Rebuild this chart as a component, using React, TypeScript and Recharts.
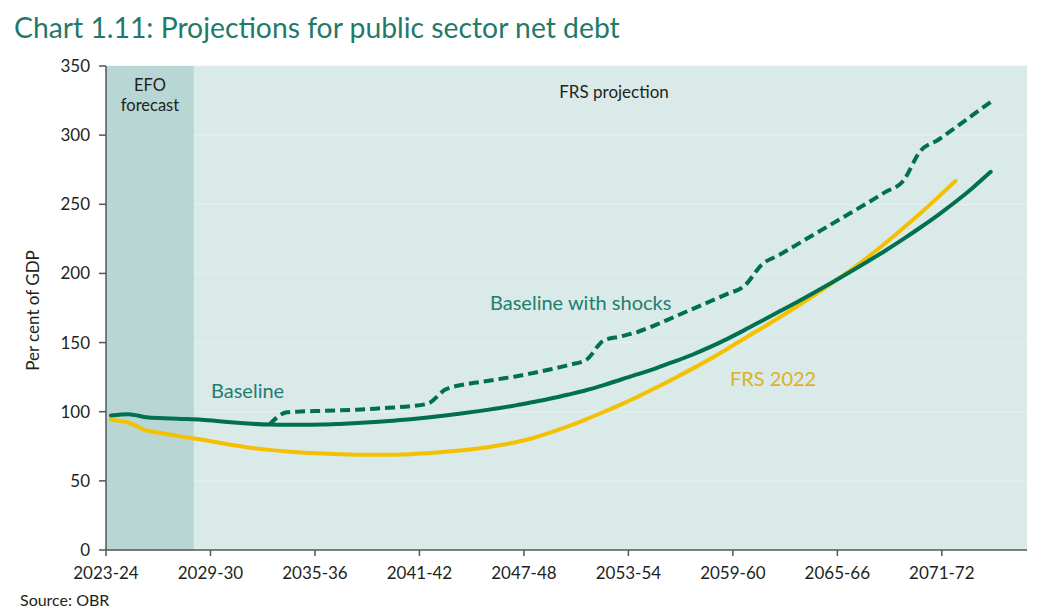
import { LineChart, Line, XAxis, YAxis, CartesianGrid, ReferenceArea } from "recharts";

const FIRST_YEAR = 2023;

// per cent of GDP, one value per year from 2023-24
const BASELINE = [
  97.3, 98.2, 96.0, 95.3, 94.8, 94.3, 93.3, 92.2, 91.3, 90.7,
  90.5, 90.5, 90.7, 91.2, 91.8, 92.6, 93.5, 94.5, 95.8, 97.3,
  98.9, 100.6, 102.5, 104.6, 107.0, 109.5, 112.4, 115.5, 119.2, 123.3,
  127.3, 131.6, 136.2, 141.0, 146.5, 152.5, 159.0, 165.8, 172.6, 179.4,
  186.4, 193.6, 201.0, 208.6, 216.4, 224.6, 233.2, 242.2, 251.8, 262.2,
  273.5,
];

const SHOCKS = [
  null, null, null, null, null, null, null, null, null, 90.7,
  99.6, 100.3, 100.6, 101.0, 101.5, 102.2, 103.0, 104.0, 105.8, 116.0,
  119.5, 121.5, 123.5, 125.5, 128.0, 130.7, 133.8, 137.4, 151.5, 154.5,
  158.0, 163.0, 168.5, 174.0, 179.5, 185.0, 191.0, 206.5, 213.5, 221.0,
  228.5, 236.0, 243.5, 251.0, 258.8, 266.5, 288.5, 296.5, 305.5, 314.8,
  324.0,
];

const FRS_2022 = [
  94.2, 92.0, 86.5, 84.3, 82.0, 80.1, 77.9, 75.7, 73.8, 72.4,
  71.3, 70.4, 69.7, 69.2, 68.9, 68.8, 68.9, 69.2, 70.0, 71.0,
  72.2, 73.6, 75.5, 77.9, 81.0, 85.0, 89.5, 94.5, 99.8, 105.3,
  111.3, 117.5, 124.0, 130.8, 137.8, 145.2, 153.0, 160.5, 168.3, 176.3,
  184.6, 193.2, 202.0, 211.6, 221.8, 232.5, 243.5, 255.0, 267.0,
];

const TICK_LABELS = ["2023-24", "2029-30", "2035-36", "2041-42", "2047-48", "2053-54", "2059-60", "2065-66", "2071-72"];
const Y_TICKS = [0, 50, 100, 150, 200, 250, 300, 350];

const X_MIN = -0.284;
const X_MAX = 52.06;
const TICK_STEP = 5.938;
const EFO_END = 4.7;

const GREEN = "#00704f";
const YELLOW = "#f5c000";
const TEAL_TEXT = "#237d6e";
const INK = "#231f20";
const FONT = "Lato, sans-serif";

const data = BASELINE.map((v, i) => ({
  i,
  year: `${FIRST_YEAR + i}-${String((FIRST_YEAR + i + 1) % 100).padStart(2, "0")}`,
  baseline: v,
  shocks: SHOCKS[i],
  frs: i < FRS_2022.length ? FRS_2022[i] : null,
}));

const xTicks = TICK_LABELS.map((_, k) => X_MIN + k * TICK_STEP);

const text = (left: number, top: number, size: number, color: string, extra: any = {}) => ({
  position: "absolute" as const,
  left,
  top,
  fontSize: size,
  lineHeight: 1,
  color,
  fontFamily: FONT,
  whiteSpace: "nowrap" as const,
  ...extra,
});

export default function App() {
  return (
    <div style={{ position: "absolute", left: 0, top: 0, width: 1051, height: 613, background: "#fff", fontFamily: FONT }}>
      <div style={text(14, 13, 28.3, "#1f7a6b")}>Chart 1.11: Projections for public sector net debt</div>

      <LineChart width={1051} height={613} data={data} margin={{ top: 66, right: 24, bottom: 33, left: 46 }}>
        <CartesianGrid vertical={false} fill="#d9eae9" stroke="#e6f0ef" strokeWidth={1.2} />
        <ReferenceArea x1={X_MIN} x2={EFO_END} y1={0} y2={350} fill="#b8d6d4" fillOpacity={1} stroke="none" />
        <XAxis
          dataKey="i"
          type="number"
          domain={[X_MIN, X_MAX]}
          ticks={xTicks}
          interval={0}
          tickFormatter={(_, k) => TICK_LABELS[k]}
          height={30}
          tickSize={6}
          tickMargin={11}
          stroke="#555"
          strokeWidth={1.5}
          tick={{ fill: INK, fontSize: 17, fontFamily: FONT }}
        />
        <YAxis
          type="number"
          domain={[0, 350]}
          ticks={Y_TICKS}
          interval={0}
          width={60}
          tickSize={7}
          tickMargin={9}
          stroke="#555"
          strokeWidth={1.5}
          tick={{ fill: INK, fontSize: 17, fontFamily: FONT }}
        />
        <Line type="monotone" dataKey="frs" stroke={YELLOW} strokeWidth={4} dot={false} isAnimationActive={false} strokeLinecap="round" strokeLinejoin="round" />
        <Line type="monotone" dataKey="baseline" stroke={GREEN} strokeWidth={4} dot={false} isAnimationActive={false} strokeLinecap="round" strokeLinejoin="round" />
        <Line type="monotone" dataKey="shocks" stroke={GREEN} strokeWidth={4} strokeDasharray="10 5" dot={false} isAnimationActive={false} strokeLinejoin="round" />
      </LineChart>

      <div style={text(-68, 302, 17, INK, { width: 200, textAlign: "center", transform: "rotate(-90deg)" })}>Per cent of GDP</div>
      <div style={text(100, 77, 16.5, INK, { width: 100, textAlign: "center" })}>EFO</div>
      <div style={text(100, 97, 16.5, INK, { width: 100, textAlign: "center" })}>forecast</div>
      <div style={text(514, 83, 17, INK, { width: 200, textAlign: "center" })}>FRS projection</div>
      <div style={text(211, 380, 20, TEAL_TEXT)}>Baseline</div>
      <div style={text(490, 292, 20, TEAL_TEXT)}>Baseline with shocks</div>
      <div style={text(730, 368, 20, "#e0b020")}>FRS 2022</div>
      <div style={text(20, 592, 16, INK)}>Source: OBR</div>
    </div>
  );
}
